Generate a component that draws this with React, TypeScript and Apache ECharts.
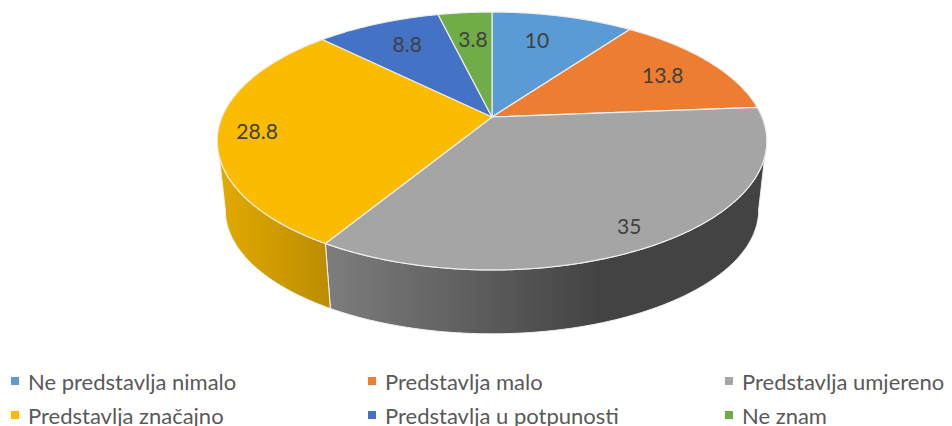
import React, { useEffect, useRef } from "react";
import * as echarts from "echarts";

const categories = ["Ne predstavlja nimalo", "Predstavlja malo", "Predstavlja umjereno", "Predstavlja značajno", "Predstavlja u potpunosti", "Ne znam"];
const values = [10, 13.8, 35, 28.8, 8.8, 3.8];
const colors = ["#5B9BD5", "#ED7D31", "#A5A5A5", "#FBBC00", "#4472C4", "#70AD47"];
const labelRadius = [0.714, 0.76, 0.873, 0.859, 0.738, 0.713];
const labelTurn = [-2.7, 1.7, 1.6, -0.8, 1.0, 0.4];

const CX = 492, TOP_CY = 117, RX = 270, RY = 124.5, K = 0.186;
const BOT_CY = 187, BOT_RX = 262, BOT_RY = 119.5;
const WALL_START_TOP = 107.6, WALL_START_BOT = 100.7, WALL_END_TOP = 252.4, WALL_END_BOT = 259.3;

const rad = (d: number) => (d * Math.PI) / 180;
const proj = (deg: number, rho = 1, cy = TOP_CY, rx = RX, ry = RY) => {
  const u = Math.sin(rad(deg)) * rho, v = Math.cos(rad(deg)) * rho, w = 1 + K * v;
  return [CX + (rx * u) / w, cy - (ry * v) / w];
};
const rim = (a: number, b: number, cy = TOP_CY, rx = RX, ry = RY) => {
  const pts: number[][] = [];
  const n = Math.max(2, Math.ceil(Math.abs(b - a) * 2));
  for (let i = 0; i <= n; i++) pts.push(proj(a + ((b - a) * i) / n, 1, cy, rx, ry));
  return pts;
};
const total = values.reduce((s, x) => s + x, 0);
const startOf = (i: number) => (values.slice(0, i).reduce((s, x) => s + x, 0) / total) * 360;

const grad = (x0: number, x1: number, c0: string, c1: string) =>
  new echarts.graphic.LinearGradient(x0, 0, x1, 0, [{ offset: 0, color: c0 }, { offset: 1, color: c1 }], true);

const wallOf = (i: number, a: number, b: number) => {
  if (categories[i] === "Predstavlja umjereno") {
    return {
      points: [...rim(WALL_START_TOP, b), ...rim(b, WALL_START_BOT, BOT_CY, BOT_RX, BOT_RY)],
      fill: grad(326, 600, "#7D7D7D", "#434343"),
    };
  }
  if (categories[i] === "Predstavlja značajno") {
    return {
      points: [...rim(a, WALL_END_TOP), ...rim(WALL_END_BOT, a, BOT_CY, BOT_RX, BOT_RY)],
      fill: grad(218, 330, "#E2AA00", "#BC8C00"),
    };
  }
  return null;
};

const renderSlice = (i: number) => () => {
  const a = startOf(i), b = startOf(i + 1);
  const children: any[] = [];
  const wall = wallOf(i, a, b);
  if (wall) {
    children.push({
      type: "polygon",
      shape: { points: wall.points },
      style: { fill: wall.fill, stroke: "#F2F2F2", lineWidth: 1 },
    });
  }
  children.push({
    type: "polygon",
    shape: { points: [[CX, TOP_CY], ...rim(a, b)] },
    style: { fill: colors[i], stroke: "#EDEDED", lineWidth: 1.2, lineJoin: "round" },
  });
  const [x, y] = proj((a + b) / 2 + labelTurn[i], labelRadius[i]);
  children.push({
    type: "text",
    x,
    y: y - 1,
    style: {
      text: String(values[i]),
      fill: "#404040",
      font: "21px Lato",
      align: "center",
      verticalAlign: "middle",
    },
  });
  return { type: "group", children };
};

const legendAt = (left: number, names: string[]) => ({
  left,
  top: 370,
  height: 90,
  padding: 0,
  orient: "vertical" as const,
  data: names,
  icon: "rect",
  itemWidth: 8,
  itemHeight: 8,
  itemGap: 12,
  selectedMode: false,
  textStyle: { fontFamily: "Lato", fontSize: 22, color: "#595959", padding: [0, 0, 0, 4] },
});

export default function App() {
  const ref = useRef<HTMLDivElement>(null);
  useEffect(() => {
    document.body.style.margin = "0";
    const chart = echarts.init(ref.current!, undefined, { renderer: "svg" });
    chart.setOption({
      animation: false,
      backgroundColor: "#fff",
      legend: [
        legendAt(11, [categories[0], categories[3]]),
        legendAt(368, [categories[1], categories[4]]),
        legendAt(725, [categories[2], categories[5]]),
      ],
      series: categories.map((name, i) => ({
        type: "custom",
        name,
        coordinateSystem: "none",
        silent: true,
        itemStyle: { color: colors[i] },
        data: [values[i]],
        renderItem: renderSlice(i),
      })),
    });
    return () => chart.dispose();
  }, []);
  return <div ref={ref} style={{ width: 952, height: 426, overflow: "hidden" }} />;
}
